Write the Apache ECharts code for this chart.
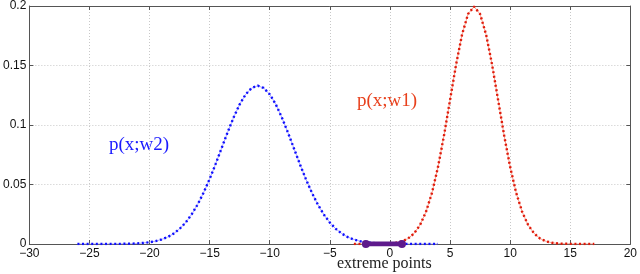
<!DOCTYPE html>
<html>
<head>
<meta charset="utf-8">
<script src="https://cdn.jsdelivr.net/npm/echarts@6/dist/echarts.min.js"></script>
<style>html,body{margin:0;padding:0;background:#fff}#c{width:640px;height:274px}</style>
</head>
<body>
<div id="c"></div>
<script>
var xTicks = [-30,-25,-20,-15,-10,-5,0,5,10,15,20];
var yTicks = [0,0.05,0.1,0.15,0.2];

var blueX = [-26,-25.5,-25,-24.5,-24,-23.5,-23,-22.5,-22,-21.5,-21,-20.5,-20,-19.5,-19,-18.5,-18,-17.5,-17,-16.5,-16,-15.5,-15,-14.5,-14,-13.5,-13,-12.5,-12,-11.5,-11,-10.5,-10,-9.5,-9,-8.5,-8,-7.5,-7,-6.5,-6,-5.5,-5,-4.5,-4,-3.5,-3,-2.5,-2,-1.5,-1,-0.5,0,0.5,1,1.5,2,2.5,3,3.5,4];
var blueY = [0,0,0,0,0,0,0.0001,0.0001,0.0002,0.0003,0.0005,0.0009,0.0015,0.0024,0.0038,0.0058,0.0087,0.0127,0.0180,0.0248,0.0332,0.0432,0.0547,0.0673,0.0807,0.0940,0.1065,0.1174,0.1258,0.1311,0.1330,0.1311,0.1258,0.1174,0.1065,0.0940,0.0807,0.0673,0.0547,0.0432,0.0332,0.0248,0.0180,0.0127,0.0087,0.0058,0.0038,0.0024,0.0015,0.0009,0.0005,0.0003,0.0002,0.0001,0.0001,0,0,0,0,0,0];

var redX = [-3,-2.5,-2,-1.5,-1,-0.5,0,0.5,1,1.5,2,2.5,3,3.5,4,4.5,5,5.5,6,6.5,7,7.5,8,8.5,9,9.5,10,10.5,11,11.5,12,12.5,13,13.5,14,14.5,15,15.5,16,16.5,17];
var redY = [0,0,0,0,0.0001,0.0002,0.0004,0.0010,0.0022,0.0045,0.0088,0.0159,0.0270,0.0431,0.0648,0.0913,0.1210,0.1506,0.1760,0.1933,0.1995,0.1933,0.1760,0.1506,0.1210,0.0913,0.0648,0.0431,0.0270,0.0159,0.0088,0.0045,0.0022,0.0010,0.0004,0.0002,0.0001,0,0,0,0];

var extremeX = [-2, 1];
var extremeY = [0, 0];

function pairs(xs, ys){ return xs.map(function(x,i){ return [x, ys[i]]; }); }
function fmt(v){ return String(v).replace('-', '\u2212'); }

var chart = echarts.init(document.getElementById('c'), null, {renderer:'canvas'});
var tickLabel = {color:'#111', fontFamily:'Liberation Sans, Arial, sans-serif', fontSize:12, formatter:fmt};
var gridLine = {show:true, lineStyle:{color:'#c8c8c8', type:[1,2], width:1}};
var axLine = {show:true, onZero:false, lineStyle:{color:'#555', width:1}};
var tick = {show:true, inside:true, length:4, lineStyle:{color:'#555'}};

chart.setOption({
  animation:false,
  grid:{left:25, right:8, top:5, bottom:30},
  xAxis:[
    {type:'value', min:-30, max:20, interval:5, axisLine:axLine, axisTick:tick,
     axisLabel:Object.assign({margin:4}, tickLabel), splitLine:gridLine},
    {type:'value', position:'top', min:-30, max:20, interval:5, axisLine:axLine, axisTick:tick,
     axisLabel:{show:false}, splitLine:{show:false}}
  ],
  yAxis:[
    {type:'value', min:0, max:0.2, interval:0.05, axisLine:axLine, axisTick:tick,
     axisLabel:Object.assign({margin:3}, tickLabel), splitLine:gridLine},
    {type:'value', position:'right', min:0, max:0.2, interval:0.05, axisLine:axLine, axisTick:tick,
     axisLabel:{show:false}, splitLine:{show:false}}
  ],
  series:[
    {type:'line', data:pairs(blueX, blueY), showSymbol:false, smooth:false, z:2,
     lineStyle:{color:'#a8a8ff', width:1}},
    {type:'line', data:pairs(blueX, blueY), showSymbol:false, smooth:false, z:3,
     lineStyle:{color:'#1010ff', width:2.4, type:[2,2.6]}},
    {type:'line', data:pairs(redX, redY), showSymbol:false, smooth:false, z:2,
     lineStyle:{color:'#f4a090', width:1}},
    {type:'line', data:pairs(redX, redY), showSymbol:false, smooth:false, z:3,
     lineStyle:{color:'#e01a0a', width:2.4, type:[2,2.6]}},
    {type:'line', data:pairs(extremeX, extremeY), symbol:'circle', symbolSize:8, z:5,
     itemStyle:{color:'#5e1a8c'}, lineStyle:{color:'#5e1a8c', width:5}}
  ],
  graphic:[
    {type:'text', left:357, top:92, style:{text:'p(x;w1)', fill:'#e8401c', font:'19px "Liberation Serif", "DejaVu Serif", serif'}},
    {type:'text', left:109, top:136, style:{text:'p(x;w2)', fill:'#1a1aff', font:'19px "Liberation Serif", "DejaVu Serif", serif'}},
    {type:'text', left:337, top:256, style:{text:'extreme points', fill:'#222', font:'16px "Liberation Serif", "DejaVu Serif", serif'}}
  ]
});
</script>
</body>
</html>
